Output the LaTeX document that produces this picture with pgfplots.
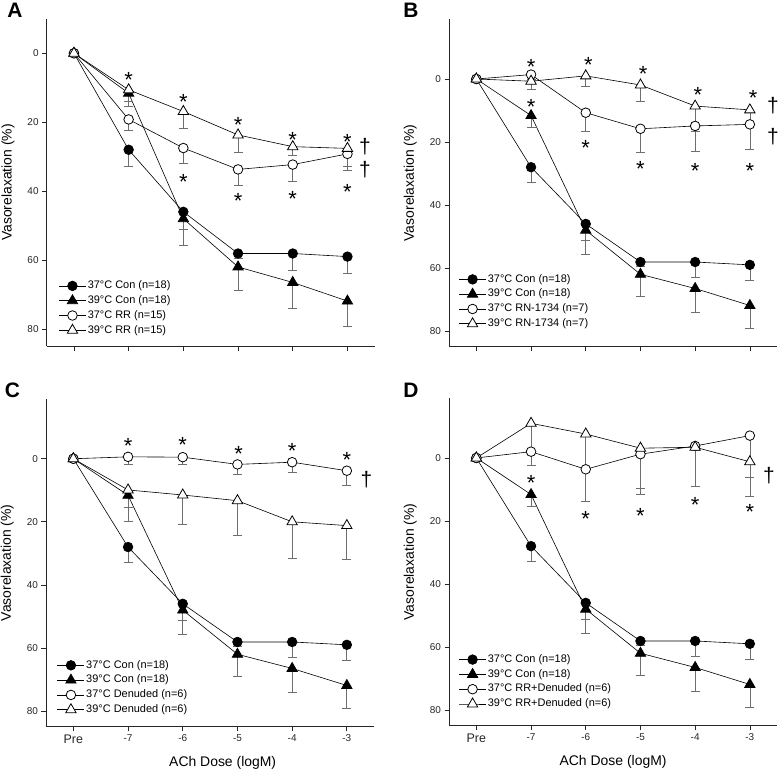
\documentclass[border=0pt]{standalone}
\usepackage{fontspec}
\setmainfont{Liberation Sans}
\usepackage{pgfplots}
\pgfplotsset{compat=1.18}

\definecolor{errgray}{HTML}{6E6E6E}
\newcommand{\tickfont}{\fontsize{10}{12}\selectfont}
\newcommand{\legfont}{\fontsize{11}{13}\selectfont}
\newcommand{\labfont}{\fontsize{14}{16}\selectfont}

\pgfplotsset{
  panel/.style={
    scale only axis, width=328.2bp,
    xmin=-0.5, xmax=5.5, y dir=reverse, ymax=85,
    axis x line=bottom, axis y line=left,
    axis line style={-, black!85, line width=0.7bp},
    tick align=outside, major tick length=4.5bp,
    tick style={black!85, line width=0.7bp},
    xtick={0,...,5}, ytick={0,20,40,60,80},
    every tick label/.append style={font=\tickfont, text=black!85},
    /pgf/number format/assume math mode=true,
    clip=false,
    legend cell align=left,
    legend style={draw=none, fill=white, inner sep=0pt, anchor=north west,
      font=\legfont,
      nodes={text height=8bp, text depth=2.5bp, inner ysep=2.15bp, inner xsep=1.5bp}},
    legend image code/.code={\draw[mark repeat=2, mark phase=2]
      plot coordinates {(0bp,0bp) (13.5bp,0bp) (27bp,0bp)};},
    error bars/y dir=plus, error bars/y explicit,
    error bars/error bar style={errgray, line width=0.7bp},
    error bars/error mark options={rotate=90, mark size=4.5bp, errgray, line width=0.7bp},
  },
  c37/.style={black, line width=0.6bp, mark=*, mark size=4.8bp, mark options={fill=black, line width=0.7bp}},
  c39/.style={black, line width=0.6bp, mark=triangle*, mark size=6bp, mark options={fill=black, line width=0.7bp}},
  o37/.style={black, line width=0.6bp, mark=*, mark size=4.8bp, mark options={fill=white, line width=0.8bp}},
  o39/.style={black, line width=0.6bp, mark=triangle*, mark size=6bp, mark options={fill=white, line width=0.8bp}},
}
\tikzset{
  ast/.style={font=\fontsize{22}{22}\selectfont, anchor=base, yshift=-12.5bp, inner sep=0pt},
  dag/.style={font=\fontsize{21}{21}\selectfont, anchor=base, yshift=-6bp, inner sep=0pt},
  plab/.style={font=\fontsize{21}{21}\selectfont\bfseries},
}

\begin{document}
\begin{tikzpicture}
\useasboundingbox (0,0) rectangle (779bp,-769bp);

% ---------- A ----------
\begin{axis}[panel, at={(46.6bp,-18.8bp)}, anchor=north west,
  height=327.4bp, ymin=-10, xticklabels={},
  ylabel={Vasorelaxation (\%)},
  ylabel style={at={(axis cs:-1.206,37.5)}, anchor=center, font=\labfont},
  legend style={at={(axis cs:-0.283,65.3)}}]
\addplot[c37] coordinates {(0,0) +- (0,0) (1,28.0) +- (0,4.9) (2,46.0) +- (0,5.1) (3,58.1) +- (0,1.5) (4,58.1) +- (0,4.9) (5,59.0) +- (0,4.8)};
\addlegendentry{37°C Con (n=18)}
\addplot[c39] coordinates {(0,0) +- (0,0) (1,11.6) +- (0,3.7) (2,48.0) +- (0,7.6) (3,62.0) +- (0,6.9) (4,66.5) +- (0,7.6) (5,71.9) +- (0,7.3)};
\addlegendentry{39°C Con (n=18)}
\addplot[o37] coordinates {(0,0) +- (0,0) (1,19.2) +- (0,3.3) (2,27.5) +- (0,4.4) (3,33.7) +- (0,4.5) (4,32.3) +- (0,5.0) (5,29.2) +- (0,4.9)};
\addlegendentry{37°C RR (n=15)}
\addplot[o39] coordinates {(0,0) +- (0,0) (1,10.6) +- (0,3.4) (2,16.9) +- (0,4.9) (3,23.7) +- (0,5.0) (4,27.1) +- (0,2.5) (5,27.6) +- (0,5.3)};
\addlegendentry{39°C RR (n=15)}
\node[ast] at (axis cs:1,6.3) {*};
\node[ast] at (axis cs:2,12.6) {*};
\node[ast] at (axis cs:3,19.4) {*};
\node[ast] at (axis cs:4,23.7) {*};
\node[ast] at (axis cs:5,24.2) {*};
\node[ast] at (axis cs:2,35.8) {*};
\node[ast] at (axis cs:3,41.4) {*};
\node[ast] at (axis cs:4,40.8) {*};
\node[ast] at (axis cs:5,38.7) {*};
\node[dag] at (axis cs:5.32,27.3) {†};
\node[dag] at (axis cs:5.32,34.1) {†};
\end{axis}
\node[plab] at (15bp,-10bp) {A};

% ---------- B ----------
\begin{axis}[panel, at={(449bp,-19.15bp)}, anchor=north west,
  height=327.6bp, ymin=-19, xticklabels={},
  ylabel={Vasorelaxation (\%)},
  ylabel style={at={(axis cs:-1.206,33)}, anchor=center, font=\labfont},
  legend style={at={(axis cs:-0.325,61.2)}}]
\addplot[c37] coordinates {(0,0) +- (0,0) (1,28.0) +- (0,4.9) (2,46.0) +- (0,5.1) (3,58.1) +- (0,1.5) (4,58.1) +- (0,4.9) (5,59.0) +- (0,4.8)};
\addlegendentry{37°C Con (n=18)}
\addplot[c39] coordinates {(0,0) +- (0,0) (1,11.6) +- (0,3.7) (2,48.0) +- (0,7.6) (3,62.0) +- (0,6.9) (4,66.5) +- (0,7.6) (5,71.9) +- (0,7.3)};
\addlegendentry{39°C Con (n=18)}
\addplot[o37] coordinates {(0,0) +- (0,0) (1,-1.4) +- (0,1.5) (2,10.7) +- (0,6.0) (3,15.8) +- (0,7.6) (4,14.9) +- (0,8.0) (5,14.4) +- (0,7.8)};
\addlegendentry{37°C RN-1734 (n=7)}
\addplot[o39] coordinates {(0,0) +- (0,0) (1,0.7) +- (0,2.6) (2,-1.0) +- (0,3.4) (3,1.9) +- (0,5.3) (4,8.6) +- (0,8.1) (5,9.8) +- (0,5.3)};
\addlegendentry{39°C RN-1734 (n=7)}
\node[ast] at (axis cs:1,-5.4) {*};
\node[ast] at (axis cs:2.05,-6.0) {*};
\node[ast] at (axis cs:3.05,-3.1) {*};
\node[ast] at (axis cs:4.05,3.5) {*};
\node[ast] at (axis cs:5.06,4.6) {*};
\node[ast] at (axis cs:1,7.2) {*};
\node[ast] at (axis cs:2,20.4) {*};
\node[ast] at (axis cs:3,27.1) {*};
\node[ast] at (axis cs:4,27.5) {*};
\node[ast] at (axis cs:5,27.5) {*};
\node[dag] at (axis cs:5.42,8.6) {†};
\node[dag] at (axis cs:5.42,18.7) {†};
\end{axis}
\node[plab] at (411bp,-10bp) {B};

% ---------- C ----------
\begin{axis}[panel, at={(46bp,-398.8bp)}, anchor=north west,
  height=328bp, ymin=-19,
  xticklabels={{\fontsize{12.5}{14}\selectfont Pre},-7,-6,-5,-4,-3},
  xlabel={ACh Dose (logM)},
  xlabel style={at={(axis cs:2.73,85)}, anchor=center, yshift=-36bp, font=\labfont},
  ylabel={Vasorelaxation (\%)},
  ylabel style={at={(axis cs:-1.206,33)}, anchor=center, font=\labfont},
  legend style={at={(axis cs:-0.30,63.1)}}]
\addplot[c37] coordinates {(0,0) +- (0,0) (1,28.0) +- (0,4.9) (2,46.0) +- (0,5.1) (3,58.1) +- (0,1.5) (4,58.1) +- (0,4.9) (5,59.0) +- (0,4.8)};
\addlegendentry{37°C Con (n=18)}
\addplot[c39] coordinates {(0,0) +- (0,0) (1,11.6) +- (0,3.7) (2,48.0) +- (0,7.6) (3,62.0) +- (0,6.9) (4,66.5) +- (0,7.6) (5,71.9) +- (0,7.3)};
\addlegendentry{39°C Con (n=18)}
\addplot[o37] coordinates {(0,0) +- (0,0) (1,-0.6) +- (0,2.3) (2,-0.5) +- (0,2.3) (3,1.8) +- (0,3.1) (4,1.1) +- (0,3.3) (5,3.8) +- (0,4.7)};
\addlegendentry{37°C Denuded (n=6)}
\addplot[o39] coordinates {(0,0) +- (0,0) (1,9.9) +- (0,10.1) (2,11.5) +- (0,9.3) (3,13.3) +- (0,10.9) (4,20.0) +- (0,11.6) (5,21.2) +- (0,10.7)};
\addlegendentry{39°C Denuded (n=6)}
\node[ast] at (axis cs:1,-5.6) {*};
\node[ast] at (axis cs:2,-5.9) {*};
\node[ast] at (axis cs:3.02,-3.0) {*};
\node[ast] at (axis cs:4,-4.0) {*};
\node[ast] at (axis cs:5,-1.2) {*};
\node[dag] at (axis cs:5.36,6.75) {†};
\end{axis}
\node[plab] at (12.5bp,-390bp) {C};

% ---------- D ----------
\begin{axis}[panel, at={(449bp,-398.1bp)}, anchor=north west,
  height=327.6bp, ymin=-19,
  xticklabels={{\fontsize{12.5}{14}\selectfont Pre},-7,-6,-5,-4,-3},
  xlabel={ACh Dose (logM)},
  xlabel style={at={(axis cs:2.5,85)}, anchor=center, yshift=-36bp, font=\labfont},
  ylabel={Vasorelaxation (\%)},
  ylabel style={at={(axis cs:-1.206,33)}, anchor=center, font=\labfont},
  legend style={at={(axis cs:-0.325,61.6)}}]
\addplot[c37] coordinates {(0,0) +- (0,0) (1,28.0) +- (0,4.9) (2,46.0) +- (0,5.1) (3,58.1) +- (0,1.5) (4,58.1) +- (0,4.9) (5,59.0) +- (0,4.8)};
\addlegendentry{37°C Con (n=18)}
\addplot[c39] coordinates {(0,0) +- (0,0) (1,11.6) +- (0,3.7) (2,48.0) +- (0,7.6) (3,62.0) +- (0,6.9) (4,66.5) +- (0,7.6) (5,71.9) +- (0,7.3)};
\addlegendentry{39°C Con (n=18)}
\addplot[o37] coordinates {(0,0) +- (0,0) (1,-2.0) +- (0,4.5) (2,3.6) +- (0,10.1) (3,-1.2) +- (0,11.0) (4,-3.8) +- (0,12.7) (5,-7.1) +- (0,13.2)};
\addlegendentry{37°C RR+Denuded (n=6)}
\addplot[o39] coordinates {(0,0) +- (0,0) (1,-11.0) +- (0,13.5) (2,-7.6) +- (0,21.3) (3,-3.1) +- (0,14.8) (4,-3.4) +- (0,1.0) (5,1.2) +- (0,10.9)};
\addlegendentry{39°C RR+Denuded (n=6)}
\node[ast] at (axis cs:1,6.5) {*};
\node[ast] at (axis cs:2,17.9) {*};
\node[ast] at (axis cs:3,16.7) {*};
\node[ast] at (axis cs:4,13.3) {*};
\node[ast] at (axis cs:5,15.7) {*};
\node[dag] at (axis cs:5.35,5.9) {†};
\end{axis}
\node[plab] at (411bp,-390bp) {D};
\end{tikzpicture}
\end{document}
